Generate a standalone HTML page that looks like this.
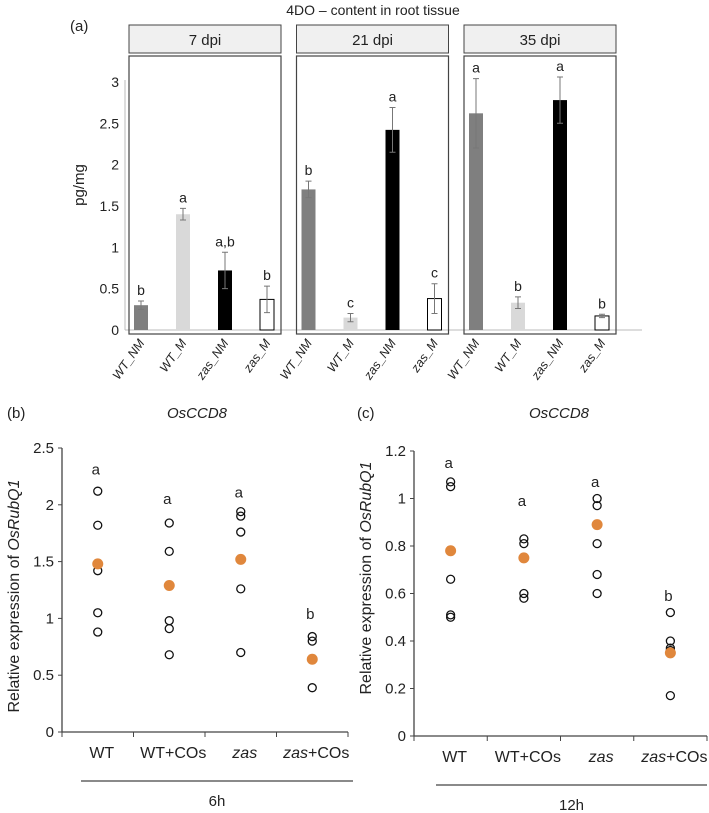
<!DOCTYPE html>
<html><head><meta charset="utf-8"><style>
body{margin:0;background:#fff;}
svg{display:block;font-family:"Liberation Sans",sans-serif;}
</style></head><body>
<svg id="s" width="709" height="813" viewBox="0 0 709 813">
<text x="373" y="15" font-size="14" text-anchor="middle" fill="#222">4DO – content in root tissue</text>
<text x="70" y="31" font-size="15" fill="#222">(a)</text>
<text transform="translate(84,185) rotate(-90)" font-size="15" text-anchor="middle" fill="#222">pg/mg</text>
<line x1="125" y1="80" x2="125" y2="330" stroke="#bbb"/>
<line x1="125" y1="330" x2="642" y2="330" stroke="#bbb"/>
<g id="ga"></g>
<g id="gb"></g>
<g id="gc"></g>
</svg>
<script>
const NS="http://www.w3.org/2000/svg";
function mk(p,t,a,txt){const e=document.createElementNS(NS,t);for(const k in a)e.setAttribute(k,a[k]);if(txt!==undefined)e.textContent=txt;p.appendChild(e);return e;}
// Panel a data
const facets=["7 dpi","21 dpi","35 dpi"];
const groups=["WT_NM","WT_M","zas_NM","zas_M"];
const barValues=[[0.30,1.40,0.72,0.37],[1.70,0.15,2.42,0.38],[2.62,0.33,2.78,0.17]];
const barErrors=[[0.05,0.07,0.22,0.16],[0.10,0.05,0.27,0.18],[0.42,0.07,0.28,0.02]];
const barLetters=[["b","a","a,b","b"],["b","c","a","c"],["a","b","a","b"]];
const yTicksA=[0,0.5,1,1.5,2,2.5,3];
const ga=document.getElementById('ga');
const yA=v=>330-v*82.7;
const fills=["#7f7f7f","#d9d9d9","#000","#fff"];
yTicksA.forEach(t=>{const e=mk(ga,'text',{x:119,y:yA(t)+5,'font-size':14,'text-anchor':'end',fill:'#222'},String(t));

});
facets.forEach((f,fi)=>{
 const x0=129+fi*167.5;
 const st=mk(ga,'rect',{x:x0,y:25,width:152,height:28,fill:'#f0f0f0',stroke:'#444','stroke-width':1});
 
 
 const tl=mk(ga,'text',{x:x0+76,y:45,'font-size':15,'text-anchor':'middle',fill:'#222'},f);
 
 
 const pr=mk(ga,'rect',{x:x0,y:56,width:152,height:278,fill:'none',stroke:'#444','stroke-width':1.2});
 
 
 groups.forEach((g,gi)=>{
  const cx=x0+12+gi*42, v=barValues[fi][gi], er=barErrors[fi][gi];
  const b=mk(ga,'rect',{x:cx-7,y:yA(v),width:14,height:330-yA(v),fill:fills[gi],stroke:gi==3?'#000':'none','stroke-width':1});
  
  
  const e=mk(ga,'path',{d:`M${cx} ${yA(v+er)}V${yA(v-er)}M${cx-3} ${yA(v+er)}h6M${cx-3} ${yA(v-er)}h6`,stroke:'#777','stroke-width':1,fill:'none'});
  
  
  const l=mk(ga,'text',{x:cx,y:yA(v+er)-6,'font-size':14,'text-anchor':'middle',fill:'#222'},barLetters[fi][gi]);
  
  
  const xl=mk(ga,'text',{transform:`translate(${cx+4},343) rotate(-55)`,'font-size':12.5,'font-style':'italic','text-anchor':'end',fill:'#222'},g);
  
  
 });
});
// Panels b, c data
const cats=["WT","WT+COs","zas","zas+COs"];
const ptsB=[[2.12,1.82,1.42,1.05,0.88],[1.84,1.59,0.98,0.91,0.68],[1.94,1.90,1.76,1.26,0.70],[0.84,0.80,0.39]];
const meanB=[1.48,1.29,1.52,0.64];
const letB=["a","a","a","b"];
const letPosB=[2.31,2.05,2.11,1.04];
const ticksB=[0,0.5,1,1.5,2,2.5];
const ptsC=[[1.07,1.05,0.66,0.51,0.50],[0.83,0.81,0.60,0.58],[1.00,0.97,0.81,0.68,0.60],[0.52,0.40,0.37,0.36,0.17]];
const meanC=[0.78,0.75,0.89,0.35];
const letC=["a","a","a","b"];
const letPosC=[1.15,0.99,1.07,0.59];
const ticksC=[0,0.2,0.4,0.6,0.8,1,1.2];
function scatter(g,o){
 const y=v=>o.y0-(v/o.max)*(o.y0-o.yTop);
 const lbl=mk(g,'text',{x:o.lx,y:418,'font-size':15,fill:'#222'},o.label);
 
 
 const t=mk(g,'text',{x:o.tx,y:418,'font-size':15,'font-style':'italic','text-anchor':'middle',fill:'#222'},'OsCCD8');
 
 
 const yt=mk(g,'text',{transform:`translate(${o.ylx},${o.yly}) rotate(-90)`,'font-size':16,'text-anchor':'middle',fill:'#222'});
 
 
 yt.innerHTML='Relative expression of <tspan font-style="italic">OsRubQ1</tspan>';
 const ax=mk(g,'path',{d:`M${o.ax} ${o.yTop}V${o.y0}H${o.axEnd}`,stroke:'#444','stroke-width':1.3,fill:'none'});
 
 
 o.ticks.forEach(tk=>{mk(g,'line',{x1:o.ax-4,x2:o.ax,y1:y(tk),y2:y(tk),stroke:'#444'});
  const e=mk(g,'text',{x:o.ax-8,y:y(tk)+5,'font-size':15,'text-anchor':'end',fill:'#222'},String(tk));
  
  });
 const w=(o.axEnd-o.ax)/4;
 for(let i=0;i<=4;i++)mk(g,'line',{x1:o.ax+i*w,x2:o.ax+i*w,y1:o.y0,y2:o.y0+5,stroke:'#444'});
 cats.forEach((c,i)=>{
  const cx=o.ax+w*(i+0.5);
  o.pts[i].forEach(v=>{const p=mk(g,'circle',{cx:cx,cy:y(v),r:4,fill:'none',stroke:'#111','stroke-width':1.3});
   
   });
  const m=mk(g,'circle',{cx:cx,cy:y(o.mean[i]),r:5.5,fill:'#e0873c'});
  
  
  const l=mk(g,'text',{x:cx-2,y:y(o.letPos[i])+5,'font-size':15,'text-anchor':'middle',fill:'#222'},o.lets[i]);
  
  
  const xl=mk(g,'text',{x:cx+4,y:o.y0+26,'font-size':16,'text-anchor':'middle',fill:'#222'});
  
  
  xl.innerHTML=c.startsWith('zas')?'<tspan font-style="italic">zas</tspan>'+c.slice(3):c;
 });
 const bl=mk(g,'line',{x1:o.blx1,x2:o.blx2,y1:o.y0+49,y2:o.y0+49,stroke:'#444','stroke-width':1.2});
 
 
 const tm=mk(g,'text',{x:(o.blx1+o.blx2)/2,y:o.y0+74,'font-size':15,'text-anchor':'middle',fill:'#222'},o.time);
 
 
}
scatter(document.getElementById('gb'),{label:'(b)',lx:7,tx:197,ylx:19,yly:596,ax:62,axEnd:348,y0:732,yTop:448,max:2.5,ticks:ticksB,pts:ptsB,mean:meanB,lets:letB,letPos:letPosB,blx1:81,blx2:353,time:'6h'});
scatter(document.getElementById('gc'),{label:'(c)',lx:357,tx:559,ylx:371,yly:578,ax:414,axEnd:707,y0:736,yTop:451,max:1.2,ticks:ticksC,pts:ptsC,mean:meanC,lets:letC,letPos:letPosC,blx1:436,blx2:707,time:'12h'});
</script>
</body></html>
